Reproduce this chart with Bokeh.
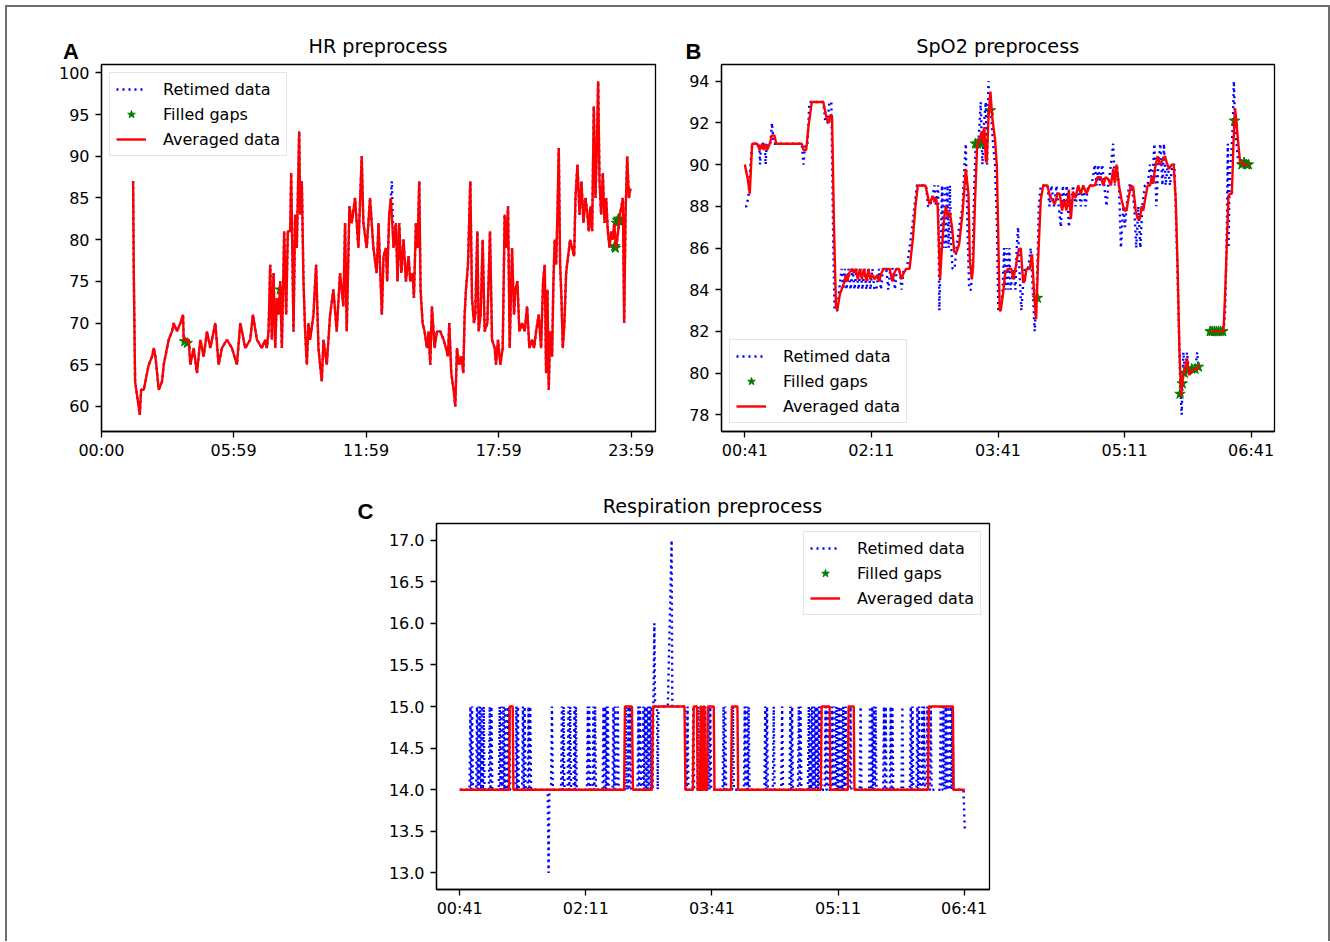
import numpy as np
from bokeh.plotting import figure
from bokeh.models import Range1d, FixedTicker, Spacer, PrintfTickFormatter, Div
from bokeh.layouts import row, column
from bokeh.embed import file_html
from bokeh.resources import INLINE

BLUE = "#0000ff"
GREEN = "#008000"
RED = "#ff0000"
FONT = "DejaVu Sans"
NAN = float("nan")

# ---------------- HR (minutes since 00:00, bpm) ----------------
hr_avg_t = [85.9, 87.7, 91.3, 104, 107.6, 114.8, 123.8, 128.4, 137.4, 141.9,
            146.4, 151, 155.5, 164.5, 169, 178, 182.6, 191.6, 196.2, 205.2,
            214.2, 221.5, 223.3, 236.8, 241.4, 250.4, 259.4, 268.5, 277.5, 286.6,
            295.6, 309.2, 318.2, 327.2, 340.8, 354.4, 368, 377, 390.5, 404,
            411.3, 422.2, 435.7, 444.8, 449.3, 453.8, 458.3, 462.8, 467.4, 471.9,
            476.4, 481, 485.5, 490, 496.3, 501.7, 506.2, 512.6, 515.3, 521.6,
            526.1, 530.6, 537, 539.7, 544.2, 548.7, 553.2, 557.8, 562.3, 566.8,
            575.8, 583, 589.4, 598.4, 603, 612, 621, 630, 639, 648,
            657, 661.7, 666.2, 673.5, 679.8, 688.8, 697.9, 706.9, 711.4, 720.5,
            729.5, 738.6, 747.6, 752.5, 756.6, 761.6, 766.2, 772.5, 776.1, 781.6,
            786.1, 793.4, 799.7, 804.2, 808.8, 814.5, 820.6, 826.9, 834.2, 838.7,
            845.1, 848.7, 854.1, 858.6, 863.2, 866.8, 872.3, 877.7, 884, 888.6,
            893.1, 897.6, 904.9, 911.2, 920.3, 929.4, 935.7, 941.2, 944.8, 950.2,
            956.6, 961.1, 965.6, 972, 977.4, 982.9, 986.5, 990.1, 995.6, 1001.9,
            1006.5, 1011.9, 1015.5, 1021, 1024.6, 1030, 1035.5, 1040.9, 1048.2, 1055.4,
            1060.9, 1068.1, 1071.7, 1077.2, 1083.5, 1089.9, 1095.3, 1099.9, 1104.4, 1108.9,
            1115.3, 1120.7, 1124.3, 1129.8, 1135.2, 1142.5, 1149.7, 1156.1, 1162.4, 1169.7,
            1175.1, 1180.6, 1187.8, 1194.2, 1199.6, 1204.1, 1207.8, 1211.4, 1215, 1218.6,
            1224.1, 1227.7, 1231.3, 1235, 1238.6, 1242.2, 1245.9, 1249.5, 1253.1, 1257.6,
            1262.2, 1267.6, 1273.1, 1278.5, 1284, 1287.6, 1293, 1298.5, 1303.9, 1309.3,
            1314.8, 1320.2, 1323.8, 1328.4, 1332.9, 1337.4, 1342, 1345.6, 1349.2, 1352.9,
            1357.4, 1361.9, 1366.5, 1371, 1375.5, 1380.1, 1384.6, 1389.1, 1392.8, 1398.2,
            1403.6, 1408.2, 1412.7, 1416.3, 1419.9, 1423.6, 1428.1, 1432.7, 1436.3, 1439.9]
hr_avg_v = [87, 76, 63, 59, 62, 62, 64, 65, 66, 67,
            66, 64, 62, 63, 65, 67, 68, 69, 70, 69,
            70, 71, 68, 68, 65, 67, 64, 68, 66, 69,
            67, 70, 65, 67, 68, 67, 65, 70, 67, 68,
            71, 68, 67, 68, 67, 69, 77, 68, 76, 67,
            73, 71, 75, 67, 81, 71, 81, 81, 88, 69,
            83, 79, 93, 83, 87, 75, 69, 65, 70, 68,
            71, 77, 67, 63, 68, 65, 71, 74, 69, 76,
            72, 82, 69, 84, 82, 85, 79, 90, 82, 79,
            85, 79, 76, 82, 77, 71, 78, 79, 75, 83,
            85, 79, 82, 75, 82, 76, 80, 75, 78, 75,
            76, 73, 82, 79, 87, 74, 70, 69, 67, 69,
            65, 72, 67, 69, 69, 68, 67, 66, 70, 64,
            62, 60, 67, 65, 66, 64, 71, 74, 77, 87,
            73, 70, 71, 81, 69, 71, 80, 69, 70, 81,
            68, 67, 65, 68, 65, 67, 83, 79, 84, 67,
            79, 71, 74, 75, 69, 70, 69, 72, 67, 68,
            67, 69, 71, 67, 75, 77, 64, 74, 62, 69,
            66, 75, 80, 77, 83, 91, 77, 73, 67, 70,
            76, 78, 80, 79, 78, 85, 89, 83, 87, 82,
            85, 83, 81, 84, 81, 96, 85, 91, 99, 87,
            83, 88, 82, 85, 81, 79, 81, 80, 82, 79,
            81, 83, 84, 85, 70, 83, 90, 85, 86, 86]
# retimed HR equals the averaged one except where it pokes out
hr_ret_extra_t = [788.8]
hr_ret_extra_v = [87]
hr_gap_t = [226, 233, 485.5, 1394, 1396, 1399, 1402, 1405, 1407]
hr_gap_v = [67.8, 67.6, 74, 79.2, 79, 82, 82.3, 82.5, 82.2]
hr_xticks = [0, 359, 719, 1079, 1439]
hr_xlabels = ["00:00", "05:59", "11:59", "17:59", "23:59"]
hr_yticks = [60, 65, 70, 75, 80, 85, 90, 95, 100]

# ---------------- SpO2 (minutes since 00:00, %) ----------------
spo2_avg_t = [41, 43.1, 44.5, 46.2, 47.4, 49.7, 51.6, 53.3, 54.4, 55.6,
              56.8, 58.7, 60.3, 62, 63.4, 81.5, 82.7, 84.6, 86.2, 88.6,
              96.8, 99.2, 100.6, 102, 103, 104.4, 105.8, 106.7, 108.6, 109.8,
              111.4, 112.9, 113.8, 115.2, 117.1, 118.5, 119.9, 121.3, 122.8, 124.2,
              125.6, 127.5, 128.9, 130.3, 131.7, 133.4, 135, 136.4, 138.1, 139.7,
              144, 145.8, 147.3, 148.7, 150.6, 152.2, 153.9, 155.7, 158.1, 160.4,
              162.3, 164, 169.4, 171, 172.2, 174.6, 175.8, 176.9, 178.1, 179.8,
              181.2, 182.8, 184, 185.2, 186.8, 188.3, 189.9, 191.5, 193.4, 195.8,
              198.1, 200, 201, 202.4, 203.3, 204.7, 206.2, 208, 209.5, 210.4,
              211.3, 212.3, 213, 214.2, 215.6, 217, 218.9, 220.2, 221.2, 222.2,
              222.9, 224.6, 226.2, 228.1, 230.5, 231.9, 233.4, 235.3, 237.2, 238.8,
              240, 241.2, 243.6, 245.2, 246.7, 248.1, 249.5, 251.4, 253.1, 256.2,
              257.8, 259.5, 261.4, 263.3, 264.9, 266.6, 268, 269.7, 271.4, 272.8,
              274.4, 276.1, 278, 279.9, 281.6, 283.9, 286.3, 289.9, 291.8, 294.2,
              295.8, 297.5, 299.4, 301.3, 302.9, 304.1, 305.3, 307, 308.9, 310.8,
              312.4, 314.1, 315.5, 317.2, 318.9, 320.3, 321.9, 323.1, 324.3, 325.5,
              327.4, 329.1, 330.3, 331.4, 332.6, 334.5, 336.2, 337.9, 339.8, 340.9,
              342.6, 344.5, 345.9, 347.4, 348.8, 350, 351.2, 352.3, 354, 355.4,
              356.9, 358.8, 361.1, 363, 364, 367, 371.8, 381.3, 382.5, 383.7,
              384.9, 386.1, 387.3, 388.4, 389.6, 390.8, 392, 393.2, 395.6, 400.3]
spo2_avg_v = [90, 89.3, 88.6, 91, 91, 91, 90.7, 91, 90.7, 91,
              90.7, 91, 91.4, 91.4, 91, 91, 90.7, 90.7, 91.8, 93,
              93, 92.2, 92, 92.4, 92.3, 87, 83.2, 83, 83.8, 84,
              84.3, 84.7, 84.4, 84.8, 85, 84.8, 85, 84.5, 85, 84.5,
              85, 84.4, 85, 84.5, 84.7, 84.5, 84.7, 84.4, 84.8, 85,
              85, 84.4, 84.8, 85, 85, 84.5, 84.8, 85, 85, 86.4,
              88, 89, 89, 88.5, 88.1, 88.5, 88.2, 88.4, 88, 84.5,
              86.1, 87.5, 88, 87.5, 87.7, 87, 85.8, 85.8, 86.2, 87.7,
              89.8, 88.6, 85.4, 84.5, 85.1, 88.3, 91, 91.2, 91.6, 91,
              91.8, 90.2, 90.1, 92.2, 93.5, 92.2, 91.2, 89.9, 86.5, 83,
              83, 83.8, 84.8, 85, 85, 84.5, 85, 85.8, 86, 84.4,
              84.4, 85, 85, 85.7, 83.8, 82.6, 85.4, 88.3, 89, 89,
              88.5, 88.3, 88.1, 88.6, 88.6, 87.8, 88.3, 87.8, 88.8, 87.4,
              88.7, 88.4, 89, 88.6, 89, 88.6, 89, 89, 89.4, 89.4,
              89, 89.4, 89.3, 89, 89.8, 89.1, 90, 89, 88.3, 87.8,
              87.8, 88.5, 89, 88.9, 87.8, 87.4, 87.4, 88, 87.8, 88.3,
              89, 89, 89.4, 89.1, 89.8, 90.4, 90, 90.2, 90.4, 90.1,
              89.8, 90, 90, 88.3, 84.8, 81.1, 78.9, 79.7, 80.2, 80.7,
              79.9, 80.1, 80.2, 80.2, 80.4, NAN, 82, 82, 83.8, 86.2,
              88.5, 88.6, 88.6, 91, 92.7, 91.8, 90.9, 90.1, 90, 90]
spo2_ret_t = [41.2, 42.2, 43.6, 45, 46.2, 51.1, 51.8, 52.5, 55.1, 55.8,
              56.5, 59.1, 60.3, 61.5, 81.5, 82.7, 83.9, 85.5, 86.9, 96.8,
              98.3, 99.7, 101.1, 102.5, 103.9, 104.8, 106.7, 108.1, 109.8, 111,
              112.1, 113.3, 114.7, 116.2, 117.6, 119, 120.4, 121.8, 123.2, 124.6,
              126, 127.5, 128.9, 130.3, 131.7, 133.1, 134.5, 136.4, 137.8, 139.2,
              141.6, 143, 144.4, 146.3, 147.7, 149.1, 151, 152.4, 153.9, 156.2,
              158.1, 160, 161.6, 163.3, 169.9, 171.3, 172.7, 174.6, 175.8, 176.9,
              178.4, 179.3, 180.2, 181.2, 182.1, 183.1, 184, 185, 185.9, 186.8,
              187.8, 188.7, 190.1, 191.5, 193.4, 195.8, 197.2, 198.1, 199.3, 200.5,
              201.7, 202.9, 204.1, 205.2, 207.1, 208.7, 209.9, 211.1, 212.3, 213.2,
              214.2, 215.1, 216.5, 217.5, 218.9, 220.3, 221.2, 222.9, 224.3, 225.3,
              226.2, 227.2, 228.1, 229.1, 230, 231.7, 233.4, 234.3, 235.3, 236.2,
              237.6, 238.6, 240, 242.4, 244.3, 245.7, 247.1, 248.6, 250, 251.4,
              256.2, 257.6, 259, 260.9, 262.6, 264.2, 265.7, 267.1, 268.5, 269.9,
              271.4, 272.8, 274.4, 276.1, 278, 279.9, 281.6, 283.2, 285.1, 287.5,
              289.9, 291.1, 292.3, 293.4, 295.1, 296.5, 298.2, 299.4, 301.3, 302.9,
              304.1, 305.6, 307, 308.4, 310.1, 311.3, 312.4, 314.1, 316, 317.9,
              319.3, 320.8, 322.2, 323.6, 325.5, 327.4, 329.1, 330.7, 332.2, 333.6,
              335, 336.4, 337.9, 339, 340.2, 341.7, 343.3, 345, 346.4, 347.8,
              349.3, 350.4, 351.6, 352.8, 354, 355.4, 356.9, 358.8, 361.1, 362.6,
              364, 370, 381.5, 382.5, 383.2, 383.9, 384.4, 384.9, 385.6, 386.3,
              387.3, 388, 388.7, 389.6, 390.6, 392, 400.3]
spo2_ret_v = [88, 88, 88.5, 90, 91, 91, 90, 91, 91, 90,
              91, 91, 92, 91, 91, 90, 91, 91, 93, 93,
              92, 92, 93, 93, 86, 83, 83, 84, 85, 84,
              85, 84, 85, 84, 85, 84, 85, 84, 85, 84,
              85, 84, 85, 84, 85, 84, 84, 85, 84, 85,
              85, 84, 85, 85, 84, 85, 85, 84, 85, 85,
              86, 87, 88, 89, 89, 88, 88, 88.5, 89, 88,
              89, 83, 86, 89, 86, 89, 86, 89, 86, 89,
              86, 85, 85, 86, 87, 88, 90, 91, 87, 84,
              84, 85, 89, 91, 91, 93, 90, 92, 93, 90,
              94, 93, 92, 91, 90, 87, 83, 83, 84, 86,
              84, 86, 84, 86, 84, 85, 84, 86, 87, 85,
              83, 84, 85, 85, 86, 84, 82, 84, 88, 89,
              89, 88, 89, 88, 89, 88, 87, 89, 88, 89,
              87, 88, 89, 88, 89, 88, 89, 88, 89, 89,
              90, 89, 90, 89, 90, 89, 88, 89, 90, 91,
              89, 90, 89, 86, 88, 87, 88, 89, 89, 88,
              86, 88, 86, 88, 89, 89, 90, 89, 91, 88,
              90, 91, 89, 91, 89, 90, 89, 90, 90, 87,
              83, 80, 78, 81, 80, 81, 80, 80, 80, 81,
              80, NAN, 82, 83, 85, 88, 91, 86, 89, 90,
              91, 92, 94, 92, 91, 90, 90]
spo2_gap_t = [205, 206.5, 208, 209.5, 215.6, 249, 350.4, 352, 353.5, 355.9,
              358.8, 361.1, 363.5, 371.8, 373.3, 374.8, 376.3, 377.8, 379.3, 380.8,
              389.2, 394.4, 396, 397.5, 399]
spo2_gap_v = [91, 91, 91.1, 91, 92.6, 83.6, 79, 79.5, 80, 80.2,
              80.2, 80.2, 80.3, 82, 82, 82, 82, 82, 82, 82,
              92.1, 90, 90.1, 90, 90]
night_xticks = [41, 131, 221, 311, 401]
night_xlabels = ["00:41", "02:11", "03:41", "05:11", "06:41"]
spo2_yticks = [78, 80, 82, 84, 86, 88, 90, 92, 94]

# ---------------- Respiration (minutes since 00:00, breaths/min) ----------------
resp_avg_t = [41, 76.2, 76.7, 78.8, 79.3, 158.3, 158.9, 163.9, 164.6, 178.2,
              178.9, 201.4, 202.1, 207.4, 208, 210.3, 210.8, 212.5, 212.9, 213.4,
              213.8, 214.6, 215, 215.6, 216, 217.5, 218, 222.3, 222.8, 234.6,
              235.2, 239.2, 239.7, 298.7, 299.3, 305, 305.5, 318, 318.5, 322.2,
              322.7, 375.2, 375.8, 393, 393.5, 401.5]
resp_avg_v = [14, 14, 15, 15, 14, 14, 15, 15, 14, 14,
              15, 15, 14, 14, 15, 15, 14, 14, 15, 15,
              14, 14, 15, 15, 14, 14, 15, 15, 14, 14,
              15, 15, 14, 14, 15, 15, 14, 14, 15, 15,
              14, 14, 15, 15, 14, 14]
# retimed respiration: baseline 14 with short excursions (peak time, peak value)
resp_spk1_t = [48.6, 49.8, 53.3, 54.5, 55.7, 56.9, 58.1, 62.4, 63.6, 69.5,
               70.7, 72.3, 73.5, 75.4, 76.4, 81.4, 82.5, 86.1, 87.3, 90.1,
               91.3, 104.4, 106.8, 113.9, 115.1, 118.6, 119.8, 122.9, 123.9, 132.4,
               133.4, 136.4, 137.6, 143.6, 144.8, 145.9, 146.7, 150.7, 151.9, 153.8,
               159.5, 161.4, 162.6, 168.5, 169.7, 172.1, 173.2, 174.4, 175.6, 176.8,
               178]
resp_spk1_v = [15, 15, 15, 15, 15, 15, 15, 15, 15, 15,
               15, 15, 15, 15, 15, 15, 15, 15, 15, 15,
               15, 13, 15, 15, 15, 15, 15, 15, 15, 15,
               15, 15, 15, 15, 15, 15, 15, 15, 15, 15,
               15, 15, 15, 15, 15, 15, 15, 15, 15, 15,
               15]
resp_mid_t = [178.6, 179.2, 179.9, 180.4, 181.8, 182.3, 182.8, 189.5, 192.2, 192.7,
              201.8, 202.3, 203.0, 203.6, 204.2]
resp_mid_v = [14, 15, 16, 15, 15, 14, 15, 15, 17, 15,
              15, 14, 14, 15, 14]
resp_spk3_t = [207.7, 211.2, 213.6, 216, 218.4, 219.8, 229.3, 230.5, 236, 244.4,
               246, 247.2, 259.1, 260.3, 265.1, 271.1, 277, 278.2, 283, 284.2,
               290.1, 291.3, 292.5, 293.7, 294.9, 296.1, 297.3, 298.5, 302.1, 303.7,
               306.8, 308.5, 309.9, 311.6, 313.3, 314.7, 316.4, 319.9, 327.1, 333.8,
               335.5, 336.6, 337.8, 343.8, 345, 348.6, 349.8, 356.9, 362.9, 364.1,
               367.6, 368.8, 371.2, 372.4, 374.8, 377.2, 384.3, 386.2, 387.9, 389.6,
               391.5, 392.7]
resp_spk3_v = [15, 15, 15, 15, 15, 15, 15, 15, 15, 15,
               15, 15, 15, 15, 15, 15, 15, 15, 15, 15,
               15, 15, 15, 15, 15, 15, 15, 15, 15, 15,
               15, 15, 15, 15, 15, 15, 15, 15, 15, 15,
               15, 15, 15, 15, 15, 15, 15, 15, 15, 15,
               15, 15, 15, 15, 15, 15, 15, 15, 15, 15,
               15, 15]
resp_end_t = [400.5, 401.5]
resp_end_v = [14, 13.5]
resp_gap_t = [NAN]   # no filled gaps in this signal
resp_gap_v = [NAN]
resp_yticks = [13.0, 13.5, 14.0, 14.5, 15.0, 15.5, 16.0, 16.5, 17.0]


def spike_path(ts, vs, base=14, half=0.6):
    xt, yv = [], []
    for t, v in zip(ts, vs):
        xt += [t - half, t, t + half]
        yv += [base, v, base]
    return xt, yv


def make_fig(w, h, bl, br, bt, bb, xr, yr, xticks, xlabels, yticks):
    p = figure(width=w, height=h, x_range=Range1d(*xr), y_range=Range1d(*yr),
               output_backend="svg", toolbar_location=None, title=None,
               min_border_left=bl, min_border_right=br,
               min_border_top=bt, min_border_bottom=bb,
               background_fill_color="white", border_fill_color="white")
    p.xgrid.visible = False
    p.ygrid.visible = False
    p.outline_line_color = "black"
    p.outline_line_width = 1.3
    p.outline_line_alpha = 1
    p.xaxis.ticker = FixedTicker(ticks=xticks)
    p.xaxis.major_label_overrides = {t: l for t, l in zip(xticks, xlabels)}
    p.yaxis.ticker = FixedTicker(ticks=yticks)
    for ax in p.axis:
        ax.axis_line_color = "black"
        ax.axis_line_width = 1.3
        ax.major_tick_line_color = "black"
        ax.major_tick_line_width = 1.3
        ax.major_tick_out = 6
        ax.major_tick_in = 0
        ax.minor_tick_line_color = None
        ax.major_label_text_font = FONT
        ax.major_label_text_font_size = "16px"
        ax.major_label_text_color = "black"
        ax.major_label_standoff = 6
    p.xaxis.major_label_standoff = 3
    return p


def draw(p, ret_t, ret_v, gap_t, gap_v, avg_t, avg_v):
    p.line(ret_t, ret_v, line_color=BLUE, line_width=2.4, line_dash="2 4",
           legend_label="Retimed data")
    p.scatter(gap_t, gap_v, marker="star", size=11, fill_color=GREEN,
              line_color=GREEN, legend_label="Filled gaps")
    p.line(avg_t, avg_v, line_color=RED, line_width=2.4, legend_label="Averaged data")


def style_legend(p, loc):
    lg = p.legend[0]
    lg.location = loc
    lg.margin = 8
    lg.padding = 6
    lg.spacing = 5
    lg.label_height = 20
    lg.glyph_height = 20
    lg.glyph_width = 30
    lg.label_standoff = 17
    lg.label_text_font = FONT
    lg.label_text_font_size = "16px"
    lg.label_text_color = "black"
    lg.border_line_color = "#cccccc"
    lg.border_line_width = 1
    lg.background_fill_color = "white"
    lg.background_fill_alpha = 0.8


def text_box(text, cx, top, font, size, asc, desc, bold=False, w=400):
    lh = (asc + desc) * size
    weight = "bold" if bold else "normal"
    return (f'<div style="position:absolute;left:{cx - w / 2:.1f}px;top:{top:.1f}px;'
            f'width:{w}px;height:{lh:.2f}px;text-align:center;white-space:nowrap;'
            f'font-family:\'{font}\';font-size:{size}px;line-height:{lh:.2f}px;'
            f'font-weight:{weight};color:#000;margin:0;padding:0;">{text}</div>')


def title_box(text, cx, baseline):
    return text_box(text, cx, baseline - 0.928 * 19.2, FONT, 19.2, 0.928, 0.236)


def letter_box(text, cx, baseline):
    return text_box(text, cx, baseline - 0.905 * 22, "Liberation Sans", 22, 0.905, 0.212,
                    bold=True, w=60)


def header(w, h, boxes):
    html = (f'<div style="position:relative;width:{w}px;height:{h}px;overflow:visible;'
            f'margin:0;padding:0;">' + "".join(boxes) + '</div>')
    return Div(text=html, width=w, height=h, margin=0, styles={"overflow": "visible"})


# ---- Panel A: HR ----
pA = make_fig(661, 408, 94, 13, 2, 39, (0, 1505), (57, 101), hr_xticks, hr_xlabels, hr_yticks)
hr_ret = sorted(zip(hr_avg_t + hr_ret_extra_t, hr_avg_v + hr_ret_extra_v))
draw(pA, [a for a, b in hr_ret], [b for a, b in hr_ret], hr_gap_t, hr_gap_v, hr_avg_t, hr_avg_v)
style_legend(pA, "top_left")

# ---- Panel B: SpO2 ----
pB = make_fig(660, 408, 53, 54, 2, 39, (24.4, 417.6), (77.2, 94.8), night_xticks, night_xlabels, spo2_yticks)
draw(pB, spo2_ret_t, spo2_ret_v, spo2_gap_t, spo2_gap_v, spo2_avg_t, spo2_avg_v)
style_legend(pB, "bottom_left")

# ---- Panel C: Respiration ----
pC = make_fig(654, 418, 61, 40, 2, 50, (24.4, 419.1), (12.8, 17.2), night_xticks, night_xlabels, resp_yticks)
pC.yaxis.formatter = PrintfTickFormatter(format="%.1f")
s1t, s1v = spike_path(resp_spk1_t, resp_spk1_v)
s3t, s3v = spike_path(resp_spk3_t, resp_spk3_v)
resp_ret_t = [41] + s1t + resp_mid_t + s3t + resp_end_t
resp_ret_v = [14] + s1v + resp_mid_v + s3v + resp_end_v
draw(pC, resp_ret_t, resp_ret_v, resp_gap_t, resp_gap_v, resp_avg_t, resp_avg_v)
style_legend(pC, "top_right")

# ---- titles and panel letters (positions relative to the inner box at page 5,5) ----
head1 = header(1325, 57, [letter_box("A", 66, 55), title_box("HR preprocess", 373, 49),
                          letter_box("B", 688.4, 55), title_box("SpO2 preprocess", 992.7, 49)])
head2 = header(1325, 51, [letter_box("C", 360.4, 50),
                          title_box("Respiration preprocess", 707.5, 43.5)])

inner = column(head1,
               row(Spacer(width=2, height=408), pA, pB, Spacer(width=2, height=408)),
               head2,
               row(Spacer(width=370, height=418), pC),
               Spacer(width=10, height=2))
# thin grey frame around the figure: left, top and right sides
inner.styles = {"box-shadow": "inset 2px 0 0 #6e6e6e, inset -2px 0 0 #6e6e6e, inset 0 2px 0 #6e6e6e"}

layout = column(Spacer(width=1330, height=5), row(Spacer(width=5, height=936), inner))

open("out.html", "w").write(file_html(layout, INLINE))
